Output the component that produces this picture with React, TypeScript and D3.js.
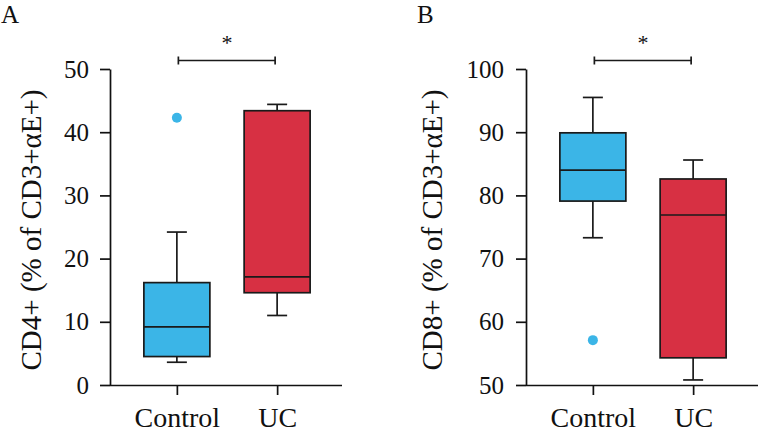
import React, { useEffect, useRef } from "react";
import * as d3 from "d3";

// groups on the x axis
const groups = ["Control", "UC"];

// panel A: CD4+ (% of CD3+αE+)
const cd4Low = [3.6, 11.0];
const cd4Q1 = [4.5, 14.6];
const cd4Median = [9.2, 17.1];
const cd4Q3 = [16.2, 43.4];
const cd4High = [24.2, 44.4];
const cd4Outliers = [[42.3], []];
const cd4Ticks = [0, 10, 20, 30, 40, 50];

// panel B: CD8+ (% of CD3+αE+)
const cd8Low = [73.3, 50.8];
const cd8Q1 = [79.1, 54.3];
const cd8Median = [84.0, 76.9];
const cd8Q3 = [89.9, 82.6];
const cd8High = [95.5, 85.6];
const cd8Outliers = [[57.1], []];
const cd8Ticks = [50, 60, 70, 80, 90, 100];

const colors = ["#3bb5e7", "#d73043"];
const FONT = "'Liberation Serif', 'DejaVu Serif', serif";

type PanelProps = {
  letter: string;
  ylabel: string;
  yDomain: [number, number];
  ticks: number[];
  axisX: number;
  labelX: number;
  tickPad: number;
  low: number[];
  q1: number[];
  median: number[];
  q3: number[];
  high: number[];
  outliers: number[][];
};

function Panel(p: PanelProps) {
  const yAxisRef = useRef<SVGGElement>(null);
  const xAxisRef = useRef<SVGGElement>(null);

  const top = 69;
  const bottom = 385;
  const y = d3.scaleLinear().domain(p.yDomain).range([bottom, top]);
  const x = d3
    .scalePoint<string>()
    .domain(groups)
    .range([p.axisX, p.axisX + 234])
    .padding(0.667);

  const boxW = 66;
  const capW = 20;

  useEffect(() => {
    const ya = d3
      .axisLeft(y)
      .tickValues(p.ticks)
      .tickSize(10)
      .tickSizeOuter(0)
      .tickPadding(p.tickPad);
    const g = d3.select(yAxisRef.current!).call(ya);
    g.selectAll("text")
      .style("font-family", FONT)
      .style("font-size", "25px")
      .attr("fill", "#111");
    g.selectAll("path, line").attr("stroke", "#111").attr("stroke-width", 1.7);

    const xa = d3.axisBottom(x).tickSize(10).tickSizeOuter(0).tickPadding(12);
    const gx = d3.select(xAxisRef.current!).call(xa);
    gx.select(".domain").attr("d", `M${p.axisX},0.5H${p.axisX + 232}`);
    gx.selectAll("text")
      .style("font-family", FONT)
      .style("font-size", "28px")
      .attr("fill", "#111");
    gx.selectAll("path, line").attr("stroke", "#111").attr("stroke-width", 1.7);
  }, []);

  const cx0 = x(groups[0])!;
  const cx1 = x(groups[1])!;
  const sigY = 60.5;

  return (
    <g>
      <text x={p.axisX - 109} y={23} fontFamily={FONT} fontSize={25} fill="#111">
        {p.letter}
      </text>
      <text
        transform={`translate(${p.labelX},${(top + bottom) / 2 + 3}) rotate(-90)`}
        textAnchor="middle"
        fontFamily={FONT}
        fontSize={29}
        fill="#111"
      >
        {p.ylabel}
      </text>
      {groups.map((grp, i) => {
        const cx = x(grp)!;
        return (
          <g key={grp} stroke="#1a1a1a" strokeWidth={1.7}>
            <line x1={cx} x2={cx} y1={y(p.high[i])} y2={y(p.q3[i])} />
            <line x1={cx} x2={cx} y1={y(p.q1[i])} y2={y(p.low[i])} />
            <line x1={cx - capW / 2} x2={cx + capW / 2} y1={y(p.high[i])} y2={y(p.high[i])} />
            <line x1={cx - capW / 2} x2={cx + capW / 2} y1={y(p.low[i])} y2={y(p.low[i])} />
            <rect
              x={cx - boxW / 2}
              y={y(p.q3[i])}
              width={boxW}
              height={y(p.q1[i]) - y(p.q3[i])}
              fill={colors[i]}
            />
            <line
              x1={cx - boxW / 2}
              x2={cx + boxW / 2}
              y1={y(p.median[i])}
              y2={y(p.median[i])}
            />
            {p.outliers[i].map((v, j) => (
              <circle key={j} cx={cx} cy={y(v)} r={5} fill={colors[i]} stroke="none" />
            ))}
          </g>
        );
      })}
      <g stroke="#1a1a1a" strokeWidth={1.7}>
        <line x1={cx0 + 1.5} x2={cx1 - 2} y1={sigY} y2={sigY} />
        <line x1={cx0 + 1.5} x2={cx0 + 1.5} y1={sigY - 4} y2={sigY + 4} />
        <line x1={cx1 - 2} x2={cx1 - 2} y1={sigY - 4} y2={sigY + 4} />
      </g>
      <text
        x={(cx0 + cx1) / 2}
        y={50}
        textAnchor="middle"
        fontFamily={FONT}
        fontSize={22}
        fill="#111"
      >
        *
      </text>
      <g ref={yAxisRef} transform={`translate(${p.axisX},0)`} />
      <g ref={xAxisRef} transform={`translate(0,${bottom})`} />
    </g>
  );
}

export default function App() {
  return (
    <svg
      width={759}
      height={433}
      style={{ position: "absolute", left: 0, top: 0, background: "#fff" }}
    >
      <Panel
        letter="A"
        ylabel="CD4+ (% of CD3+αE+)"
        yDomain={[0, 50]}
        ticks={cd4Ticks}
        axisX={110}
        labelX={41}
        tickPad={11}
        low={cd4Low}
        q1={cd4Q1}
        median={cd4Median}
        q3={cd4Q3}
        high={cd4High}
        outliers={cd4Outliers}
      />
      <Panel
        letter="B"
        ylabel="CD8+ (% of CD3+αE+)"
        yDomain={[50, 100]}
        ticks={cd8Ticks}
        axisX={526}
        labelX={442}
        tickPad={12}
        low={cd8Low}
        q1={cd8Q1}
        median={cd8Median}
        q3={cd8Q3}
        high={cd8High}
        outliers={cd8Outliers}
      />
    </svg>
  );
}
